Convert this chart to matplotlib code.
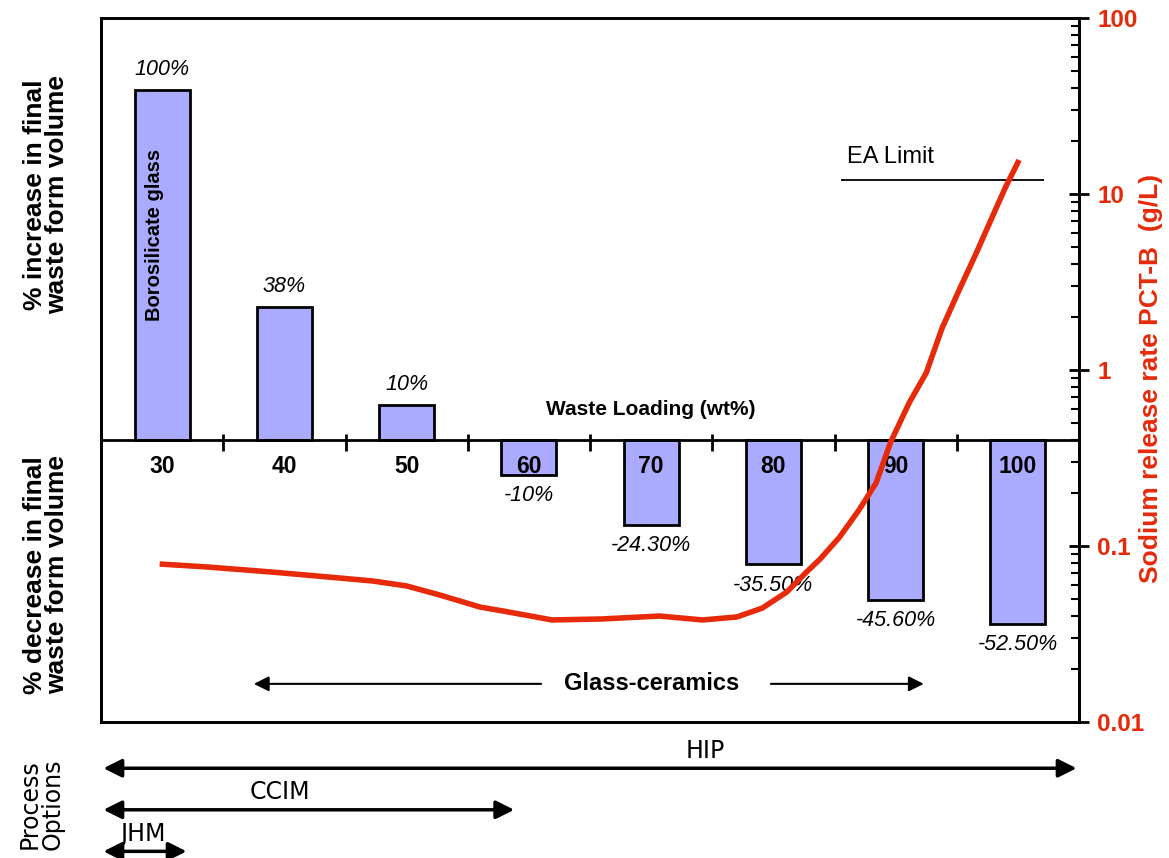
import numpy as np
import matplotlib
matplotlib.use("Agg")
import matplotlib.pyplot as plt

# bars: change in final waste form volume vs waste loading
loading = [30, 40, 50, 60, 70, 80, 90, 100]
vol_change = [100, 38, 10, -10, -24.3, -35.5, -45.6, -52.5]
vol_labels = ["100%", "38%", "10%", "-10%", "-24.30%", "-35.50%", "-45.60%", "-52.50%"]

# red curve: sodium release rate PCT-B (g/L)
curve_wt = [29.8, 33.7, 39.1, 44.5, 47.2, 50.0, 52.7, 56.0, 57.9, 61.9, 66.0, 70.7,
            74.2, 77.0, 79.1, 81.1, 82.7, 83.8, 85.4, 87.0, 88.4, 89.6, 91.1, 92.5,
            93.8, 95.2, 96.6, 97.9, 99.0, 100.1]
curve_na = [0.079, 0.076, 0.071, 0.0658, 0.0633, 0.0593, 0.0527, 0.045, 0.0427, 0.038,
            0.0385, 0.040, 0.038, 0.0395, 0.0444, 0.0548, 0.071, 0.084, 0.112, 0.160,
            0.228, 0.39, 0.649, 0.962, 1.73, 2.85, 4.62, 7.4, 10.97, 15.6]

ea_limit = 12.0
ea_range = [85.5, 102.1]

glass_ceramics = [37.5, 92.3]

process_names = ["HIP", "CCIM", "JHM"]
process_start = [25.2, 25.2, 25.2]
process_end = [104.8, 58.8, 32.0]
process_text_x = [74.4, 39.6, 28.4]

RED = "#E62A0A"
BAR = "#AAAAFF"
ARIAL = "Liberation Sans"

W, H = 1169, 858
fig = plt.figure(figsize=(W / 100, H / 100), dpi=100)
ax = fig.add_axes([101 / W, 1 - 722 / H, (1079 - 101) / W, (722 - 18) / H])

ax.bar(loading, vol_change, width=4.5, color=BAR, edgecolor="black", linewidth=2, zorder=2)
ax.set_xlim(25, 105)
ax.set_ylim(-80.6, 120.6)
ax.set_xticks([])
ax.set_yticks([])
for s in ax.spines.values():
    s.set_linewidth(2)

# zero line with category boundary ticks
ax.axhline(0, color="black", lw=2, zorder=3)
ax.vlines(np.array(loading[:-1]) + 5, -3.2, 1.8, color="black", lw=2, zorder=3)

for x, v, lab in zip(loading, vol_change, vol_labels):
    off = 15 if v > 0 else -15
    ax.annotate(lab, (x, v), xytext=(0, off), textcoords="offset points",
                ha="center", va="center", fontsize=15.5, style="italic", family=ARIAL)
    ax.text(x, -7.6, str(x), ha="center", va="center", fontsize=16.5,
            fontweight="bold", family=ARIAL, zorder=4)

ax.text(70, 8.6, "Waste Loading (wt%)", ha="center", va="center", fontsize=15,
        fontweight="bold", family=ARIAL)
ax.text(29.4, 58.6, "Borosilicate glass", rotation=90, ha="center", va="center",
        fontsize=14.5, fontweight="bold", family=ARIAL)

# glass-ceramics range
ax.text(70, -69.7, "Glass-ceramics", ha="center", va="center", fontsize=17,
        fontweight="bold", family=ARIAL)
arr = dict(arrowstyle="-|>,head_length=0.9,head_width=0.45", color="black", lw=1.5,
           shrinkA=0, shrinkB=0)
ax.annotate("", xy=(glass_ceramics[0], -69.7), xytext=(61.0, -69.7), arrowprops=arr)
ax.annotate("", xy=(glass_ceramics[1], -69.7), xytext=(79.8, -69.7), arrowprops=arr)

# right log axis
ax2 = ax.twinx()
ax2.set_yscale("log")
ax2.set_ylim(0.01, 100)
ax2.plot(curve_wt, curve_na, color=RED, lw=4, solid_capstyle="butt",
         solid_joinstyle="round", zorder=5)
ax2.hlines(ea_limit, ea_range[0], ea_range[1], color="black", lw=1.3)
ax2.text(86.05, 16.3, "EA Limit", ha="left", va="center", fontsize=17, family=ARIAL)
for s in ax2.spines.values():
    s.set_linewidth(2)
ax2.set_yticks([0.01, 0.1, 1, 10, 100])
ax2.set_yticklabels(["0.01", "0.1", "1", "10", "100"])
ax2.tick_params(axis="y", which="major", direction="inout", length=14, width=2,
                labelsize=17.5, labelcolor=RED, pad=6)
ax2.tick_params(axis="y", which="minor", direction="in", length=6, width=1.5)
for t in ax2.get_yticklabels():
    t.set_fontweight("bold")
    t.set_family(ARIAL)
fig.text(1151 / W, 1 - 378 / H, "Sodium release rate PCT-B  (g/L)", rotation=90,
         ha="center", va="center", color=RED, fontsize=19, fontweight="bold",
         family=ARIAL)

# left labels
fig.text(46 / W, 1 - 195 / H, "% increase in final\nwaste form volume", rotation=90,
         ha="center", va="center", fontsize=19, fontweight="bold", family=ARIAL,
         linespacing=0.9)
fig.text(46 / W, 1 - 575 / H, "% decrease in final\nwaste form volume", rotation=90,
         ha="center", va="center", fontsize=19, fontweight="bold", family=ARIAL,
         linespacing=0.9)

# process options
axp = fig.add_axes([101 / W, 0, (1079 - 101) / W, 123 / H])
axp.set_xlim(25, 105)
axp.set_ylim(3.16, 0.2)
axp.axis("off")
parr = dict(arrowstyle="<|-|>,head_length=1.1,head_width=0.55", color="black", lw=2.5,
            shrinkA=0, shrinkB=0)
for i, (name, x0, x1, tx) in enumerate(zip(process_names, process_start, process_end,
                                            process_text_x)):
    row = i + 1
    axp.annotate("", xy=(x0, row), xytext=(x1, row), arrowprops=parr)
    axp.text(tx, row - 0.42, name, ha="center", va="center", fontsize=17,
             family="DejaVu Sans")
fig.text(41 / W, 1 - 804 / H, "Process\nOptions", rotation=90, ha="center", va="center",
         fontsize=17, family="DejaVu Sans", linespacing=0.95)

fig.savefig("out.png", dpi=100)
